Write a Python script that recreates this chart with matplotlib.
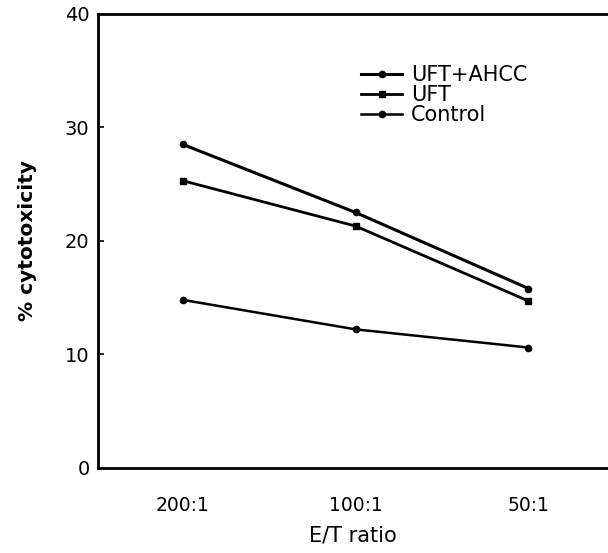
import matplotlib
matplotlib.use("Agg")
import matplotlib.pyplot as plt

# data
ratios = ["200:1", "100:1", "50:1"]
uft_ahcc = [28.5, 22.5, 15.8]
uft = [25.3, 21.3, 14.7]
control = [14.8, 12.2, 10.6]
y_ticks = [0, 10, 20, 30, 40]

plt.rcParams["font.family"] = ["DejaVu Sans"]

fig = plt.figure(figsize=(6.08, 5.53), dpi=100)
ax = fig.add_axes([0.161, 0.154, 0.839, 0.821])

x = range(len(ratios))
ax.plot(x, uft_ahcc, color="black", lw=2.2, marker="o", ms=4.5, label="UFT+AHCC")
ax.plot(x, uft, color="black", lw=2.0, marker="s", ms=4.5, label="UFT")
ax.plot(x, control, color="black", lw=1.8, marker="o", ms=4.5, label="Control")

ax.set_xlim(-0.49, 2.46)
ax.set_ylim(0, 40)
ax.set_xticks(list(x))
ax.set_xticklabels(ratios)
ax.set_yticks(y_ticks)
ax.tick_params(axis="x", length=0, labelsize=13.5, pad=20)
ax.tick_params(axis="y", direction="in", length=4, width=1.2, labelsize=14, pad=6)

ax.spines["right"].set_visible(False)
for s in ["left", "bottom", "top"]:
    ax.spines[s].set_linewidth(2)

ax.set_xlabel("E/T ratio", fontsize=15, labelpad=8)
ax.set_ylabel("% cytotoxicity", fontsize=14.5, fontweight="bold", labelpad=20)

ax.legend(loc="upper left", bbox_to_anchor=(0.495, 0.91), frameon=False, fontsize=15,
          handlelength=2.0, handletextpad=0.4, labelspacing=0.0, borderpad=0)

fig.savefig("out.png", dpi=100)
